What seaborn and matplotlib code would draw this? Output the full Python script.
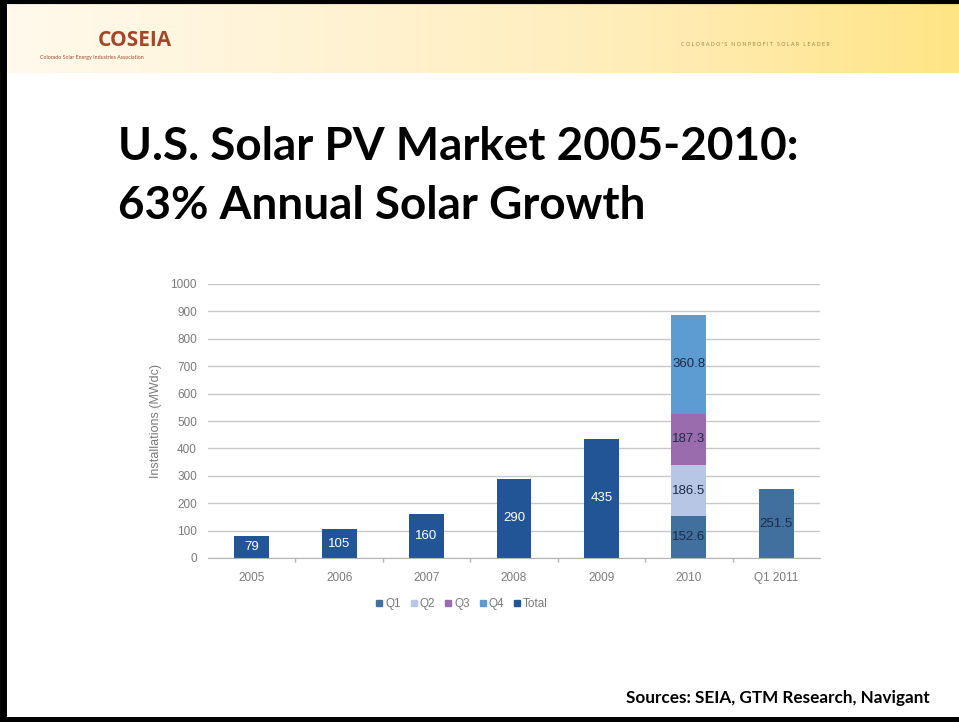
import numpy as np
import pandas as pd
import matplotlib.pyplot as plt
from matplotlib.lines import Line2D
from matplotlib.colors import LinearSegmentedColormap
import seaborn as sns

# ── data ─────────────────────────────────────────────
categories = ["2005", "2006", "2007", "2008", "2009", "2010", "Q1 2011"]
total_years = ["2005", "2006", "2007", "2008", "2009"]
total_values = [79, 105, 160, 290, 435]
quarter_names = ["Q1", "Q2", "Q3", "Q4"]
q2010_values = [152.6, 186.5, 187.3, 360.8]
q1_2011_value = 251.5

colors = {"Q1": "#41709f", "Q2": "#b6c6e4", "Q3": "#9a6cae",
          "Q4": "#5d9bd3", "Total": "#225596"}
grey = "#7a7a7a"
chart_font = ["Liberation Sans", "DejaVu Sans"]

# ── setup ────────────────────────────────────────────
sns.set_style("white")
plt.rcParams["font.family"] = ["Lato", "DejaVu Sans"]

fig = plt.figure(figsize=(9.59, 7.22), dpi=100)

# slide background + header band
bg = fig.add_axes([0, 0, 1, 1])
grad = np.linspace(0, 1, 256)[None, :]
hdr_cmap = LinearSegmentedColormap.from_list("hdr", ["#fffaee", "#fff3d4", "#ffedb8", "#ffe485"])
bg.imshow(grad, cmap=hdr_cmap, extent=[0, 959, 73, 3], aspect="auto")
bg.set_xlim(0, 959)
bg.set_ylim(722, 0)
bg.axis("off")
bg.text(135, 40, "COSEIA", color="#a3472b", fontsize=15, fontweight="bold",
        ha="center", va="center", family=["Open Sans", "DejaVu Sans"])
bg.text(92, 58, "Colorado Solar Energy Industries Association", color="#a3472b",
        fontsize=3.8, ha="center", va="center")
bg.text(755, 44, "C O L O R A D O ' S   N O N P R O F I T   S O L A R   L E A D E R",
        color="#a0824a", fontsize=3.8, ha="center", va="center")

# border lines
bg.plot([0, 959], [1.5, 1.5], color="black", lw=3)
bg.plot([3, 3], [0, 722], color="black", lw=5)
bg.plot([0, 959], [719.5, 719.5], color="black", lw=5)

# title
bg.text(118, 160, "U.S. Solar PV Market 2005-2010:", fontsize=33, fontweight="bold",
        ha="left", va="baseline", color="black")
bg.text(118, 219, "63% Annual Solar Growth", fontsize=33, fontweight="bold",
        ha="left", va="baseline", color="black")

# footer
bg.text(930, 698, "Sources: SEIA, GTM Research, Navigant", fontsize=12.3,
        fontweight="bold", ha="right", va="center", color="black")

# ── chart ────────────────────────────────────────────
ax = fig.add_axes([208 / 959, 1 - 558 / 722, (820 - 208) / 959, (558 - 284) / 722])

bar_kw = dict(x="cat", y="val", order=categories, width=0.4, saturation=1,
              errorbar=None, linewidth=0, edgecolor="none", ax=ax)

# stacked 2010 bar drawn as overlapping cumulative layers (tallest first)
cum2010 = np.cumsum(q2010_values)
for i in range(len(quarter_names) - 1, -1, -1):
    layer = pd.DataFrame({"cat": ["2010"], "val": [cum2010[i]]})
    sns.barplot(data=layer, color=colors[quarter_names[i]], **bar_kw)

tot_df = pd.DataFrame({"cat": total_years, "val": total_values})
sns.barplot(data=tot_df, color=colors["Total"], **bar_kw)

q1_df = pd.DataFrame({"cat": ["Q1 2011"], "val": [q1_2011_value]})
sns.barplot(data=q1_df, color=colors["Q1"], **bar_kw)

# value labels
for yr, v in zip(total_years, total_values):
    ax.text(categories.index(yr), v / 2, f"{v}", ha="center", va="center",
            color="white", fontsize=9.5, family=chart_font)
bottoms = np.concatenate([[0], cum2010[:-1]])
for b, v in zip(bottoms, q2010_values):
    ax.text(categories.index("2010"), b + v / 2, f"{v:.1f}", ha="center", va="center",
            color="#1c2b45", fontsize=9.5, family=chart_font)
ax.text(categories.index("Q1 2011"), q1_2011_value / 2, f"{q1_2011_value:.1f}",
        ha="center", va="center", color="#1c2b45", fontsize=9.5, family=chart_font)

ax.set_ylim(0, 1000)
ax.set_xlim(-0.5, len(categories) - 0.5)
ax.set_yticks(range(0, 1001, 100))
ax.grid(axis="y", color="#c8c8c8", lw=1)
ax.set_axisbelow(True)
for s in ["top", "right", "left"]:
    ax.spines[s].set_visible(False)
ax.spines["bottom"].set_color("#b5b5b5")
ax.tick_params(axis="both", length=0, labelcolor=grey, labelsize=8.5)
ax.tick_params(axis="y", pad=8)
ax.tick_params(axis="x", pad=10)
for lbl in ax.get_xticklabels() + ax.get_yticklabels():
    lbl.set_family(chart_font)
ax.set_xticks(np.arange(len(categories) - 1) + 0.5, minor=True)
ax.tick_params(axis="x", which="minor", bottom=True, length=3, width=1,
               color="#b5b5b5", direction="out")
ax.set_xlabel("")
ax.set_ylabel("Installations (MWdc)", color=grey, fontsize=9, labelpad=6,
              family=chart_font)

handles = [Line2D([], [], marker="s", ls="", color=colors[k], markersize=4)
           for k in ["Q1", "Q2", "Q3", "Q4", "Total"]]
leg = fig.legend(handles, ["Q1", "Q2", "Q3", "Q4", "Total"], loc="center",
                 bbox_to_anchor=(462 / 959, 1 - 604 / 722), ncol=5, frameon=False,
                 labelcolor=grey, handlelength=0.6, handletextpad=0.2,
                 columnspacing=0.8, prop={"family": chart_font, "size": 8.5})

plt.savefig("out.png", dpi=100)
